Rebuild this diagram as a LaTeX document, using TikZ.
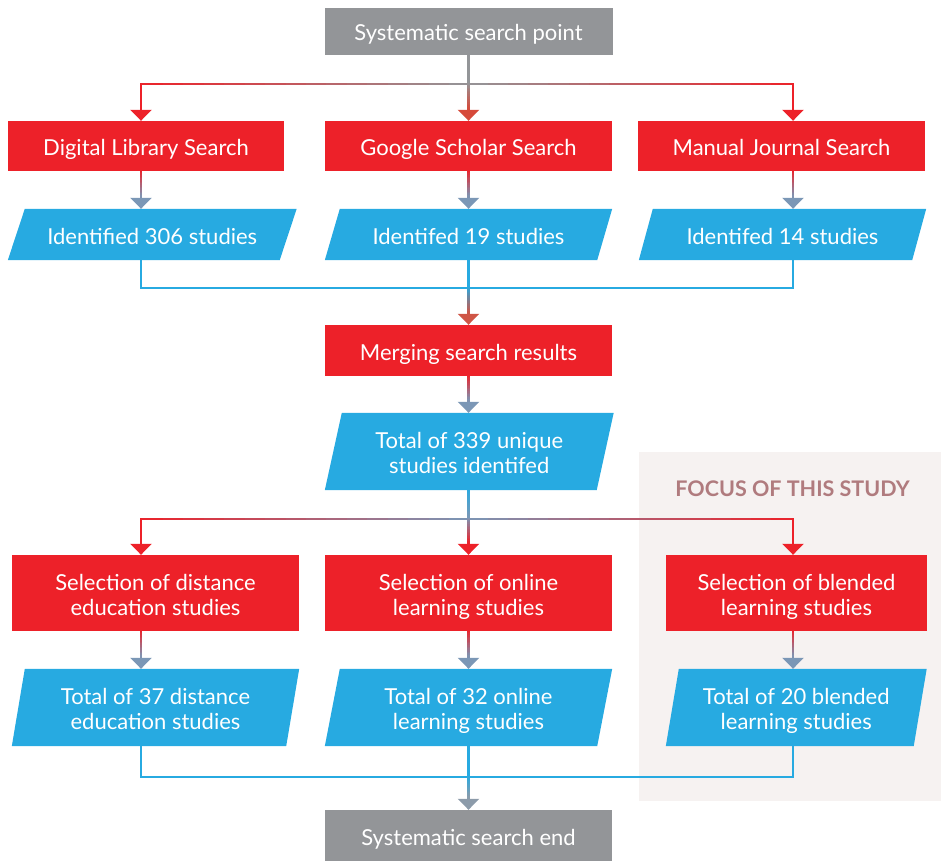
\documentclass[tikz,border=0pt]{standalone}
\usepackage{fontspec}
\setmainfont{Lato}
\usetikzlibrary{arrows.meta,calc,backgrounds}
\definecolor{cred}{HTML}{ED2129}
\definecolor{cblue}{HTML}{27AAE1}
\definecolor{cgray}{HTML}{939598}
\definecolor{cbg}{HTML}{7B97B6}
\definecolor{cor}{HTML}{D64A3A}
\definecolor{cor2}{HTML}{CF5546}
\definecolor{cendarr}{HTML}{8C9BAA}
\definecolor{focusbg}{HTML}{F6F2F1}
\definecolor{focustxt}{HTML}{B07B7E}
\tikzset{
  box/.style={rectangle, inner sep=0pt, text=white, align=center,
    font=\fontsize{22}{25}\selectfont},
  oneline/.style={text height=21pt, text depth=2pt},
  twoline/.style={text height=46pt, text depth=2pt},
  redbox/.style={box, fill=cred},
  graybox/.style={box, fill=cgray},
  parabox/.style={box},
  wire/.style={line width=2.5pt, line cap=rect},
  tip/.style={-{Triangle[width=21pt,length=11pt]}, line width=2.5pt},
}
% gradient segment: from #1 to #2, colour #3 -> #4
\newcommand\gseg[4]{%
  \foreach \i in {0,...,15}{%
    \pgfmathtruncatemacro\pc{100*(\i+0.5)/16}%
    \draw[wire,draw=#4!\pc!#3] ($(#1)!{\i/16}!(#2)$) -- ($(#1)!{(\i+1)/16}!(#2)$);}}
% gradient arrow: from #1 to #2 (coordinates), colour #3 -> #4
\newcommand\garrow[4]{%
  \coordinate (tmpb) at ($(#2)!11pt!(#1)$);
  \gseg{#1}{tmpb}{#3}{#4}%
  \draw[tip,#4] (tmpb) -- (#2);}
% parallelogram behind a node: name, half slant
\newcommand\para[2]{%
  \begin{scope}[on background layer]
  \fill[cblue] ([xshift=#2pt]#1.north west) -- ([xshift=#2pt]#1.north east)
     -- ([xshift=-#2pt]#1.south east) -- ([xshift=-#2pt]#1.south west) -- cycle;
  \end{scope}}
\begin{document}
\begin{tikzpicture}[x=1pt,y=-1pt]
\useasboundingbox (0,0) rectangle (941,861);
\begin{scope}[on background layer]
\fill[focusbg] (639,452) rectangle (941,801);
\end{scope}
\node[font=\fontsize{21.5}{24}\selectfont\bfseries, text=focustxt, anchor=base, inner sep=0pt] (focus) at (792.5,496.5) {FOCUS OF THIS STUDY};

\coordinate (cL) at (141,0);
\coordinate (cM) at (468.5,0);
\coordinate (cR) at (793,0);

\node[graybox, oneline, minimum width=288pt, minimum height=47pt] (start) at (468.5,31.5) {Systematic search point};

\node[redbox, oneline, minimum width=276pt, minimum height=50pt] (dls) at (146,146) {Digital Library Search};
\node[redbox, oneline, minimum width=287pt, minimum height=50pt] (gss) at (468.5,146) {Google Scholar Search};
\node[redbox, oneline, minimum width=287pt, minimum height=50pt] (mjs) at (781.5,146) {Manual Journal Search};

\node[parabox, oneline, minimum width=271.5pt, minimum height=51pt] (id1) at (152.25,234.5) {Identified 306 studies};
\node[parabox, oneline, minimum width=272pt, minimum height=51pt] (id2) at (468.5,234.5) {Identifed 19 studies};
\node[parabox, oneline, minimum width=273pt, minimum height=51pt] (id3) at (782.5,234.5) {Identifed 14 studies};
\para{id1}{8.5}\para{id2}{7.5}\para{id3}{7}

\node[redbox, oneline, minimum width=287pt, minimum height=51pt] (merge) at (468.5,350.5) {Merging search results};
\node[parabox, twoline, minimum width=271.5pt, minimum height=77pt] (tot) at (469.25,451.5) {Total of 339 unique\\studies identifed};
\para{tot}{8.5}

\node[redbox, twoline, minimum width=287pt, minimum height=76pt] (sel1) at (155.5,593) {Selection of distance\\education studies};
\node[redbox, twoline, minimum width=287pt, minimum height=76pt] (sel2) at (468.5,593) {Selection of online\\learning studies};
\node[redbox, twoline, minimum width=261pt, minimum height=76pt] (sel3) at (796.5,593) {Selection of blended\\learning studies};

\node[parabox, twoline, minimum width=274pt, minimum height=77pt] (t1) at (155.5,707.5) {Total of 37 distance\\education studies};
\node[parabox, twoline, minimum width=272pt, minimum height=77pt] (t2) at (468.5,707.5) {Total of 32 online\\learning studies};
\node[parabox, twoline, minimum width=247.5pt, minimum height=77pt] (t3) at (796.25,707.5) {Total of 20 blended\\learning studies};
\para{t1}{6.5}\para{t2}{7.5}\para{t3}{6.5}

\node[graybox, oneline, minimum width=287pt, minimum height=51pt] (end) at (468.5,835.5) {Systematic search end};

% junctions
\coordinate (j1) at (468.5,84);  \coordinate (j1L) at (141,84);  \coordinate (j1R) at (793,84);
\coordinate (j2) at (468.5,288);
\coordinate (j3) at (468.5,519); \coordinate (j3L) at (141,519); \coordinate (j3R) at (793,519);
\coordinate (j4) at (468.5,777);

% top branching
\draw[wire,cgray] (start.south) -- (j1);
\coordinate (a2) at (gss.north -| cM);
\garrow{j1}{a2}{cgray}{cor}
\gseg{j1}{j1L}{cgray}{cred}
\gseg{j1}{j1R}{cgray}{cred}
\coordinate (a1) at (dls.north -| cL);
\coordinate (a3) at (mjs.north -| cR);
\garrow{j1L}{a1}{cred}{cred}
\garrow{j1R}{a3}{cred}{cred}

% red to blue row 1
\coordinate (b1) at (dls.south -| cL); \coordinate (c1) at (id1.north -| cL);
\coordinate (b2) at (gss.south -| cM); \coordinate (c2) at (id2.north -| cM);
\coordinate (b3) at (mjs.south -| cR); \coordinate (c3) at (id3.north -| cR);
\garrow{b1}{c1}{cred}{cbg}
\garrow{b2}{c2}{cred}{cbg}
\garrow{b3}{c3}{cred}{cbg}

% merge 1
\draw[wire,cblue,line cap=butt] (id1.south -| cL) |- (j2);
\draw[wire,cblue,line cap=butt] (id3.south -| cR) |- (j2);
\draw[wire,cblue] (id2.south -| cM) -- (j2);
\coordinate (m1) at (merge.north -| cM);
\garrow{j2}{m1}{cblue}{cor2}

\coordinate (m2) at (merge.south -| cM); \coordinate (m3) at (tot.north -| cM);
\garrow{m2}{m3}{cred}{cbg}

% second branching
\coordinate (m4) at (tot.south -| cM);
\gseg{m4}{j3}{cblue}{cbg}
\gseg{j3}{j3L}{cbg}{cred}
\gseg{j3}{j3R}{cbg}{cred}
\coordinate (s1) at (sel1.north -| cL);
\coordinate (s2) at (sel2.north -| cM);
\coordinate (s3) at (sel3.north -| cR);
\garrow{j3L}{s1}{cred}{cred}
\garrow{j3}{s2}{cbg}{cred}
\garrow{j3R}{s3}{cred}{cred}

% red to blue row 2
\coordinate (e1) at (sel1.south -| cL); \coordinate (f1) at (t1.north -| cL);
\coordinate (e2) at (sel2.south -| cM); \coordinate (f2) at (t2.north -| cM);
\coordinate (e3) at (sel3.south -| cR); \coordinate (f3) at (t3.north -| cR);
\garrow{e1}{f1}{cred}{cbg}
\garrow{e2}{f2}{cred}{cbg}
\garrow{e3}{f3}{cred}{cbg}

% merge 2
\draw[wire,cblue,line cap=butt] (t1.south -| cL) |- (j4);
\draw[wire,cblue,line cap=butt] (t3.south -| cR) |- (j4);
\draw[wire,cblue] (t2.south -| cM) -- (j4);
\coordinate (n1) at (end.north -| cM);
\garrow{j4}{n1}{cblue}{cendarr}
\end{tikzpicture}
\end{document}
